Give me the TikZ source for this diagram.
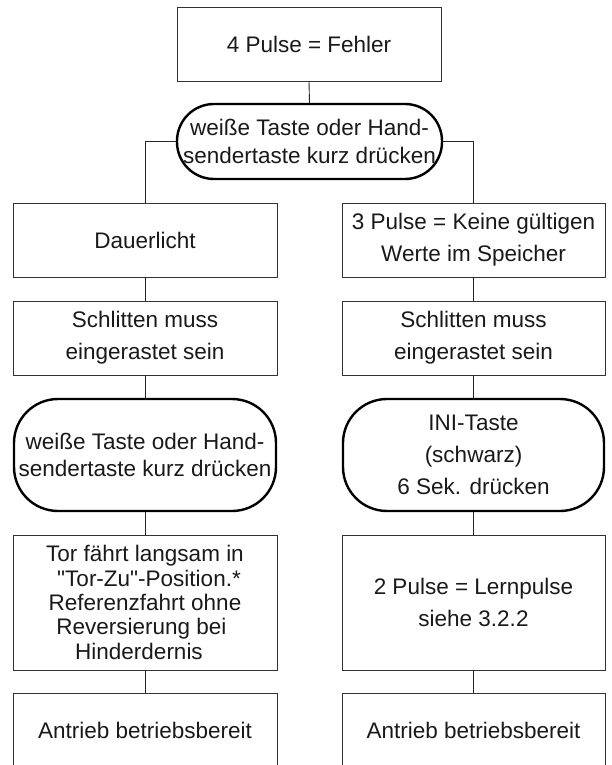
\documentclass[tikz,border=0pt]{standalone}
\usepackage{fontspec}
\setmainfont{Liberation Sans}[Ligatures=TeXOff]
\newcommand\fsA{\fontsize{22.5}{32}\selectfont}
\newcommand\fsB{\fontsize{22.5}{27.5}\selectfont}
\newcommand\fsC{\fontsize{22.5}{24.3}\selectfont}
\begin{document}
\begin{tikzpicture}[x=1pt,y=-1pt,
  box/.style={draw=black!80, line width=0.9pt, minimum width=264pt, minimum height=74pt,
    inner sep=0pt, align=center, text=black!90, font=\fsA},
  term/.style={draw=black, line width=2.4pt, minimum width=262pt, inner sep=0pt,
    align=center, text=black!90, font=\fsB},
  link/.style={draw=black!85, line width=0.9pt}]
\useasboundingbox (0,0) rectangle (612,765);
\clip (0,0) rectangle (612,765);
% top
\node[box] (top) at (309,44) {4 Pulse = Fehler};
\node[term, minimum width=265pt, minimum height=75pt, rounded corners=37pt] (r0) at (309.5,141.5)
  {weiße Taste oder Hand-\\sendertaste kurz drücken};
% left column
\node[box] (l1) at (145,240) {Dauerlicht};
\node[box] (l2) at (145,338) {Schlitten muss\\eingerastet sein};
\node[term, minimum height=112pt, rounded corners=44pt] (l3) at (145,455)
  {weiße Taste oder Hand-\\sendertaste kurz drücken};
\node[box, minimum height=135pt, font=\fsC] (l4) at (145,602.5)
  {Tor fährt langsam in\\\rule{8pt}{0pt}"Tor-Zu"-Position.*\\Referenzfahrt ohne\\Reversierung bei\rule{7pt}{0pt}\\Hinderdernis\rule{12pt}{0pt}};
\node[box] (l5) at (145,730) {Antrieb betriebsbereit};
% right column
\node[box, minimum width=263pt] (q1) at (473.5,240) {3 Pulse = Keine gültigen\\Werte im Speicher};
\node[box, minimum width=263pt] (q2) at (473.5,338) {Schlitten muss\\eingerastet sein};
\node[term, minimum width=261pt, minimum height=112pt, rounded corners=44pt, font=\fsA] (q3) at (473.5,455)
  {INI-Taste\\(schwarz)\\6 Sek. drücken};
\node[box, minimum width=263pt, minimum height=135pt] (q4) at (473.5,602.5)
  {2 Pulse = Lernpulse\\siehe 3.2.2};
\node[box, minimum width=263pt] (q5) at (473.5,730) {Antrieb betriebsbereit};
% connectors
\draw[link] (top.south) -- (r0.north);
\draw[link] (r0.west) -- (l1.north |- r0.west) -- (l1.north);
\draw[link] (r0.east) -- (q1.north |- r0.east) -- (q1.north);
\draw[link] (l1) -- (l2);
\draw[link] (l2) -- (l3);
\draw[link] (l3) -- (l4);
\draw[link] (l4) -- (l5);
\draw[link] (q1) -- (q2);
\draw[link] (q2) -- (q3);
\draw[link] (q3) -- (q4);
\draw[link] (q4) -- (q5);
\end{tikzpicture}
\end{document}
